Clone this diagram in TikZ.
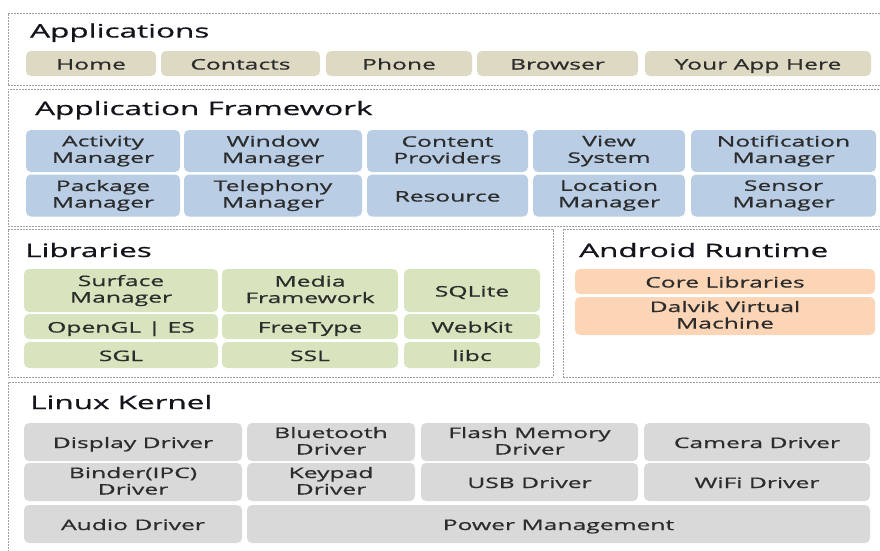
\documentclass[tikz,border=0pt]{standalone}
\usepackage{fontspec}
\setmainfont[FakeStretch=1.7,FakeBold=0.8]{Open Sans}

\definecolor{appfill}{HTML}{DDD9C3}
\definecolor{frmfill}{HTML}{B9CDE5}
\definecolor{libfill}{HTML}{D7E4BD}
\definecolor{rtfill}{HTML}{FBD5B5}
\definecolor{krnfill}{HTML}{D9D9D9}
\definecolor{titletext}{HTML}{14141C}
\definecolor{blocktext}{HTML}{2C2C2C}
\newcommand{\lnstrut}{\rule[-2.5pt]{0pt}{13pt}}

\begin{document}
\begin{tikzpicture}[x=1pt, y=-1pt,
  layer/.style={draw=gray!75, dash pattern=on 2pt off 1pt, line width=0.9pt, anchor=north west, inner sep=0pt},
  title/.style={anchor=base west, inner sep=0pt, text=titletext, font=\fontsize{18.5}{20}\selectfont},
  block/.style={rounded corners=5pt, inner sep=0pt, align=center, text=blocktext, font=\fontsize{14.5}{16.5}\selectfont,
    execute at begin node=\lnstrut, execute at end node=\lnstrut},
  oneline/.style={text height=14pt, text depth=2pt},
  app/.style={block, oneline, fill=appfill, minimum height=25pt},
  frm/.style={block, fill=frmfill, minimum height=42pt},
  lib/.style={block, fill=libfill},
  rt/.style={block, fill=rtfill, minimum width=300pt},
  krn/.style={block, fill=krnfill, minimum height=38pt}]
\useasboundingbox (0,0) rectangle (880,550);
% Applications
\node[layer, minimum width=880pt, minimum height=72pt] (applayer) at (8,13) {};
\node[title] (apptitle) at (30,37.5) {Applications};
\node[app, minimum width=130pt] (home) at (91,63.5) {Home};
\node[app, minimum width=159pt] (contacts) at (240.5,63.5) {Contacts};
\node[app, minimum width=146pt] (phone) at (399,63.5) {Phone};
\node[app, minimum width=161pt] (browser) at (557.5,63.5) {Browser};
\node[app, minimum width=226pt] (yourapp) at (758,63.5) {Your App Here};
% Application Framework
\node[layer, minimum width=880pt, minimum height=137pt] (frmlayer) at (8,89) {};
\node[title] (frmtitle) at (35,115) {Application Framework};
\node[frm, minimum width=154pt] (activity) at (103,151) {Activity\\Manager};
\node[frm, minimum width=178pt] (window) at (273,151) {Window\\Manager};
\node[frm, minimum width=161pt] (content) at (447.5,151) {Content\\Providers};
\node[frm, minimum width=152pt] (view) at (609,151) {View\\System};
\node[frm, minimum width=185pt] (notification) at (783.5,151) {Notification\\Manager};
\node[frm, minimum width=154pt] (package) at (103,195.5) {Package\\Manager};
\node[frm, minimum width=178pt] (telephony) at (273,195.5) {Telephony\\Manager};
\node[frm, oneline, minimum width=161pt] (resource) at (447.5,195.5) {Resource};
\node[frm, minimum width=152pt] (location) at (609,195.5) {Location\\Manager};
\node[frm, minimum width=185pt] (sensor) at (783.5,195.5) {Sensor\\Manager};
% Libraries
\node[layer, minimum width=545pt, minimum height=148pt] (liblayer) at (8,229) {};
\node[title] (libtitle) at (25,257) {Libraries};
\node[lib, minimum width=194pt, minimum height=43pt] (surface) at (121,290.5) {Surface\\Manager};
\node[lib, minimum width=176pt, minimum height=43pt] (media) at (310,290.5) {Media\\Framework};
\node[lib, oneline, minimum width=136pt, minimum height=43pt] (sqlite) at (472,290.5) {SQLite};
\node[lib, oneline, minimum width=194pt, minimum height=25pt] (opengl) at (121,326.5) {OpenGL | ES};
\node[lib, oneline, minimum width=176pt, minimum height=25pt] (freetype) at (310,326.5) {FreeType};
\node[lib, oneline, minimum width=136pt, minimum height=25pt] (webkit) at (472,326.5) {WebKit};
\node[lib, oneline, minimum width=194pt, minimum height=26pt] (sgl) at (121,355) {SGL};
\node[lib, oneline, minimum width=176pt, minimum height=26pt] (ssl) at (310,355) {SSL};
\node[lib, oneline, minimum width=136pt, minimum height=26pt] (libc) at (472,355) {libc};
% Android Runtime
\node[layer, minimum width=325pt, minimum height=148pt] (rtlayer) at (563,229) {};
\node[title] (rttitle) at (579,257) {Android Runtime};
\node[rt, oneline, minimum height=25pt] (core) at (725,281.5) {Core Libraries};
\node[rt, minimum height=38pt] (dalvik) at (725,316) {Dalvik Virtual\\Machine};
% Linux Kernel
\node[layer, minimum width=880pt, minimum height=178pt] (krnlayer) at (8,382) {};
\node[title] (krntitle) at (30,409) {Linux Kernel};
\node[krn, oneline, minimum width=218pt] (display) at (133,442) {Display Driver};
\node[krn, minimum width=168pt] (bluetooth) at (331,442) {Bluetooth\\Driver};
\node[krn, minimum width=217pt] (flash) at (529.5,442) {Flash Memory\\Driver};
\node[krn, oneline, minimum width=226pt] (camera) at (757,442) {Camera Driver};
\node[krn, minimum width=218pt] (binder) at (133,482) {Binder(IPC)\\Driver};
\node[krn, minimum width=168pt] (keypad) at (331,482) {Keypad\\Driver};
\node[krn, oneline, minimum width=217pt] (usb) at (529.5,482) {USB Driver};
\node[krn, oneline, minimum width=226pt] (wifi) at (757,482) {WiFi Driver};
\node[krn, oneline, minimum width=218pt] (audio) at (133,524) {Audio Driver};
\node[krn, oneline, minimum width=623pt] (power) at (558.5,524) {Power Management};
\end{tikzpicture}
\end{document}
